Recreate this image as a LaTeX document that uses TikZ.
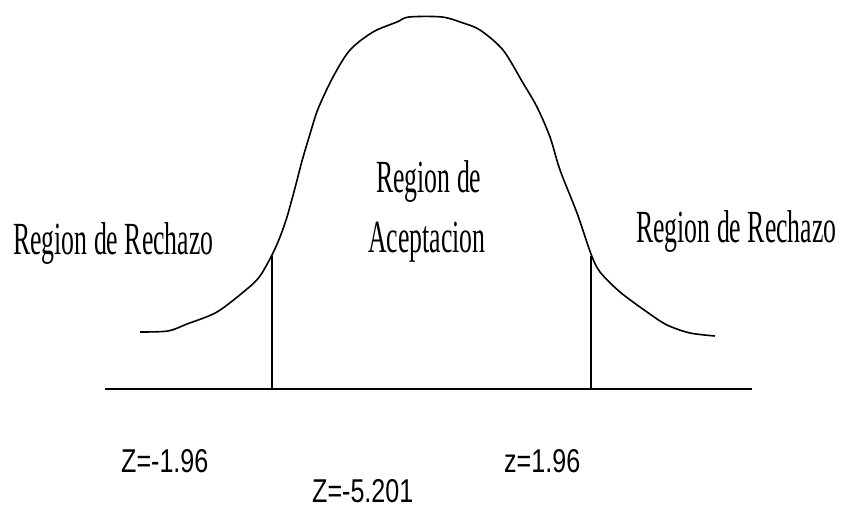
\documentclass[tikz,border=0pt]{standalone}
\usepackage{fontspec}
\newfontfamily\regfont[FakeStretch=0.56]{Liberation Serif}
\newfontfamily\zfont[FakeStretch=0.76]{Liberation Sans}
\begin{document}
\begin{tikzpicture}[x=1pt,y=-1pt,
  curve/.style={line width=1.6pt, line join=round},
  cut/.style={line width=1.3pt},
  axisline/.style={line width=2.2pt},
  region/.style={font=\regfont\fontsize{46}{50}\selectfont, inner sep=0pt, anchor=base west},
  zlabel/.style={font=\zfont\fontsize{33}{36}\selectfont, inner sep=0pt, anchor=base west}]
\useasboundingbox (0,0) rectangle (843,510);
% curve
\draw[curve] plot[smooth, tension=0.5] coordinates {
 (140,332) (168,331) (187,324) (217,312) (247,289) (260,276) (272,255)
 (280,237) (287,217) (295,188) (302,161) (310,134) (318,109) (333,77)
 (350,50) (373,32) (397,22) (409,17) (442,17) (463,23) (480,30)
 (503,50) (523,83) (537,107) (550,137) (560,170) (577,213) (591,254)
 (600,272) (620,292) (647,312) (667,325) (690,333) (715,336)};
% axis and cuts
\coordinate (ax1) at (105,389);
\coordinate (ax2) at (752,389);
\coordinate (cl) at (272,256);
\coordinate (clb) at (272,389);
\coordinate (cr) at (591,256);
\coordinate (crb) at (591,389);
\draw[axisline] (ax1) -- (ax2);
\draw[cut] (cl) -- (clb);
\draw[cut] (cr) -- (crb);
% labels
\node[region] (rl) at (13,255) {Region de Rechazo};
\node[region] (rr) at (636,243) {Region de Rechazo};
\node[region] (ra1) at (376,193) {Region de};
\node[region] (ra2) at (368,253) {Aceptacion};
\node[zlabel] (z1) at (121,472) {Z=-1.96};
\node[zlabel] (z2) at (504,472) {z=1.96};
\node[zlabel] (z3) at (312,502) {Z=-5.201};
\end{tikzpicture}
\end{document}
